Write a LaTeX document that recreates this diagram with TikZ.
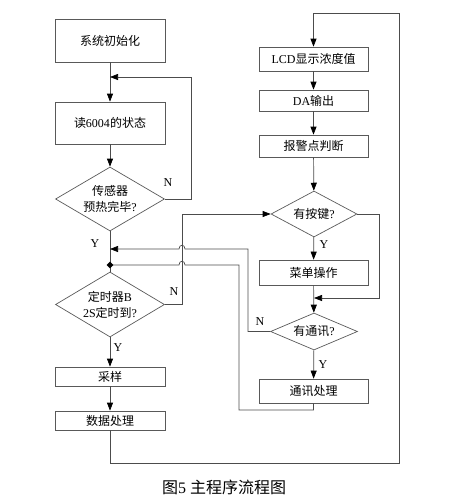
\documentclass[tikz,border=0pt]{standalone}
\usepackage{fontspec}
\setmainfont{Liberation Serif}
\newfontfamily\cjk{Noto Sans CJK SC}
\usepackage{tikz}
\usetikzlibrary{arrows.meta,shapes.geometric,calc}

\begin{document}
\begin{tikzpicture}[x=1pt,y=-1pt,
	box/.style={draw=black!65,line width=0.7pt,inner sep=0pt,font=\fontsize{12}{14}\selectfont},
	dec/.style={draw=black!65,line width=0.7pt,shape=diamond,inner sep=0pt,align=center,font=\fontsize{12}{16}\selectfont},
	flow/.style={draw=black!70,line width=0.7pt},
	arr/.style={flow,-{Triangle[length=8pt,width=6pt,color=black]}},
	lab/.style={font=\fontsize{12}{13}\selectfont}]
	\useasboundingbox (0,0) rectangle (448,504);
	\node[box,minimum width=110pt,minimum height=43pt] (init) at (110,40.5) {\cjk 系统初始化};
	\node[box,minimum width=110pt,minimum height=42pt] (read) at (110,123) {{\cjk 读}6004{\cjk 的状态}};
	\node[dec,minimum width=109pt,minimum height=64pt,shape aspect=1.7] (sensor) at (110,199) {{\cjk 传感器}\\{\cjk 预热完毕}?};
	\node[dec,minimum width=109pt,minimum height=65pt,shape aspect=1.7] (timer) at (110,304.5) {{\cjk 定时器}B\\2S{\cjk 定时到}?};
	\node[box,minimum width=110pt,minimum height=19pt] (sample) at (110,376.5) {\cjk 采样};
	\node[box,minimum width=110pt,minimum height=19pt] (data) at (110,420.5) {\cjk 数据处理};
	\node[box,minimum width=109pt,minimum height=24pt] (lcd) at (313.5,59) {LCD{\cjk 显示浓度值}};
	\node[box,minimum width=109pt,minimum height=21pt] (da) at (313.5,100.5) {DA{\cjk 输出}};
	\node[box,minimum width=109pt,minimum height=22pt] (alarm) at (313.5,146) {\cjk 报警点判断};
	\node[dec,minimum width=86pt,minimum height=46pt,shape aspect=1.9] (key) at (314,214) {{\cjk 有按键}?};
	\node[box,minimum width=109pt,minimum height=25pt] (menu) at (313.5,272.5) {\cjk 菜单操作};
	\node[dec,minimum width=87pt,minimum height=37pt,shape aspect=2.4] (comm) at (314,331.5) {{\cjk 有通讯}?};
	\node[box,minimum width=109pt,minimum height=24pt] (commproc) at (313.5,391) {\cjk 通讯处理};
	\node[font=\fontsize{16}{18}\selectfont] (cap) at (224,487) {{\cjk 图}5 {\cjk 主程序流程图}};

	\coordinate (j1) at (110,77);
	\coordinate (j2) at (110,249);
	\coordinate (j3) at (110,265);
	\coordinate (j4) at (314,298);
	\coordinate (top) at (399,13);

	\draw[arr] (init) -- (read);
	\draw[arr] (read) -- (sensor);
	\draw[flow] (sensor) -- (timer);
	\draw[arr] (timer) -- (sample);
	\draw[arr] (sample) -- (data);
	\draw[arr] (lcd) -- (da);
	\draw[arr] (da) -- (alarm);
	\draw[arr] (alarm) -- (key);
	\draw[arr] (key) -- (menu);
	\draw[arr] (menu) -- (comm);
	\draw[arr] (comm) -- (commproc);

	\draw[arr] (sensor.east) -- (191,199) -- (191,77) -- (j1);
	\draw[arr] (timer.east) -- (182,304.5) -- (182,214) -- (key.west);
	\draw[arr] (comm.west) -- (248,331.5) -- (248,249) -- (185,249) .. controls (185,244) and (179,244) .. (179,249) -- (j2);
	\draw[flow] (commproc.south) -- (313.5,410) -- (239,410) -- (239,265) -- (185,265) .. controls (185,260) and (179,260) .. (179,265) -- (j3);
	\node[diamond,fill=black,inner sep=0pt,minimum size=7pt] (dot) at (j3) {};
	\draw[arr] (key.east) -- (379,214) -- (379,298) -- (j4);
	\draw[arr] (data.south) -- (110,463) -- (399,463) -- (top) -- (lcd.north |- top) -- (lcd.north);

	\node[lab] (n1) at (168,183) {N};
	\node[lab] (y1) at (95,244) {Y};
	\node[lab] (n2) at (174,292) {N};
	\node[lab] (y2) at (118,348) {Y};
	\node[lab] (y3) at (324,245) {Y};
	\node[lab] (n3) at (260,322) {N};
	\node[lab] (y4) at (323,365) {Y};
\end{tikzpicture}
\end{document}
